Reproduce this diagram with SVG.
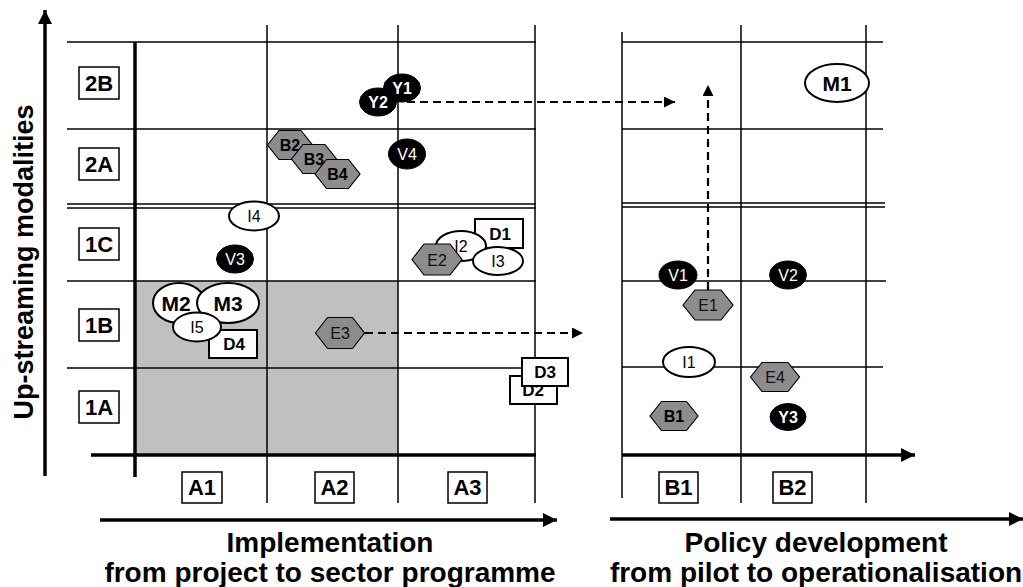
<svg xmlns="http://www.w3.org/2000/svg" width="1023" height="587" viewBox="0 0 1023 587">
<defs>
<style>
text{font-family:"Liberation Sans",Arial,sans-serif;text-anchor:middle}
.grid{stroke:#000;stroke-width:1.5;fill:none}
.thick{stroke:#000;stroke-width:3.5;fill:none}
.axis{stroke:#000;stroke-width:3.5;fill:none}
.dash{stroke:#000;stroke-width:2.2;stroke-dasharray:8 5;fill:none}
.lbl{fill:#fff;stroke:#000;stroke-width:1.5}
.lt{font-size:22px;font-weight:bold;fill:#000}
.blk{fill:#000;stroke:#000;stroke-width:1}
.bt{fill:#fff;font-size:16px}
.btb{fill:#fff;font-size:16px;font-weight:bold}
.wh{fill:#fff;stroke:#000;stroke-width:2}
.wt{fill:#000;font-size:16px}
.wtb{fill:#000;font-size:21px;font-weight:bold}
.hex{fill:#8c8c8c;stroke:#000;stroke-width:1.2}
.ht{fill:#111;font-size:16px}
.htb{fill:#000;font-size:16px;font-weight:bold}
.box{fill:#fff;stroke:#000;stroke-width:2}
.boxt{fill:#000;font-size:17px;font-weight:bold}
.title{font-size:28px;font-weight:bold;fill:#000}
.vtitle{font-size:27px;font-weight:bold;fill:#000}
</style>
<marker id="ah" viewBox="0 0 10 10" refX="10" refY="5" markerWidth="11" markerHeight="11" markerUnits="userSpaceOnUse" orient="auto">
<path d="M0,0 L10,5 L0,10 Z" fill="#000"/>
</marker>
<marker id="ahBig" viewBox="0 0 10 10" refX="10" refY="5" markerWidth="14" markerHeight="14" markerUnits="userSpaceOnUse" orient="auto">
<path d="M0,0 L10,5 L0,10 Z" fill="#000"/>
</marker>
</defs>
<rect x="0" y="0" width="1023" height="587" fill="#fff"/>

<!-- shaded area -->
<rect x="135" y="281" width="263" height="174" fill="#c0c0c0"/>

<!-- left grid -->
<g id="left-grid">
<line class="grid" x1="67" y1="42" x2="536" y2="42"/>
<line class="grid" x1="67" y1="129" x2="536" y2="129"/>
<line class="grid" x1="67" y1="204" x2="536" y2="204"/>
<line class="grid" x1="67" y1="208" x2="536" y2="208"/>
<line class="grid" x1="67" y1="281" x2="536" y2="281"/>
<line class="grid" x1="67" y1="368" x2="536" y2="368"/>
<line class="grid" x1="267" y1="25" x2="267" y2="503"/>
<line class="grid" x1="398" y1="25" x2="398" y2="503"/>
<line class="grid" x1="535" y1="25" x2="535" y2="503"/>
<line class="thick" x1="135" y1="42" x2="135" y2="477"/>
<line class="thick" x1="91" y1="455" x2="536" y2="455"/>
</g>

<!-- right grid -->
<g id="right-grid">
<line class="grid" x1="622" y1="42" x2="883" y2="42"/>
<line class="grid" x1="622" y1="129" x2="883" y2="129"/>
<line class="grid" x1="622" y1="203" x2="885" y2="203"/>
<line class="grid" x1="622" y1="207" x2="885" y2="207"/>
<line class="grid" x1="622" y1="281" x2="886" y2="281"/>
<line class="grid" x1="622" y1="367" x2="883" y2="367"/>
<line class="grid" x1="622" y1="32" x2="622" y2="498"/>
<line class="grid" x1="741" y1="25" x2="741" y2="503"/>
<line class="grid" x1="866" y1="25" x2="866" y2="503"/>
<line class="thick" x1="622" y1="455" x2="915" y2="455" marker-end="url(#ahBig)"/>
</g>

<!-- axes -->
<g id="axes">
<line class="axis" x1="45" y1="476" x2="45" y2="10" marker-end="url(#ahBig)"/>
<line class="axis" x1="100" y1="520" x2="557" y2="520" marker-end="url(#ahBig)"/>
<line class="axis" x1="610" y1="519" x2="1023" y2="519" marker-end="url(#ahBig)"/>
<text class="vtitle" transform="translate(33,262) rotate(-90)">Up-streaming modalities</text>
<text class="title" x="330" y="552">Implementation</text>
<text class="title" x="330" y="582">from project to sector programme</text>
<text class="title" x="816" y="552">Policy development</text>
<text class="title" x="816" y="582">from pilot to operationalisation</text>
</g>

<!-- row / column labels -->
<g id="label-2B"><rect class="lbl" x="79" y="67" width="40" height="32"/><text class="lt" x="99" y="91">2B</text></g>
<g id="label-2A"><rect class="lbl" x="79" y="148" width="40" height="32"/><text class="lt" x="99" y="172">2A</text></g>
<g id="label-1C"><rect class="lbl" x="79" y="228" width="40" height="32"/><text class="lt" x="99" y="252">1C</text></g>
<g id="label-1B"><rect class="lbl" x="79" y="309" width="40" height="32"/><text class="lt" x="99" y="333">1B</text></g>
<g id="label-1A"><rect class="lbl" x="79" y="391" width="40" height="32"/><text class="lt" x="99" y="415">1A</text></g>
<g id="label-A1"><rect class="lbl" x="182" y="472" width="40" height="31"/><text class="lt" x="202" y="495">A1</text></g>
<g id="label-A2"><rect class="lbl" x="315" y="472" width="39" height="31"/><text class="lt" x="334.5" y="495">A2</text></g>
<g id="label-A3"><rect class="lbl" x="448" y="472" width="39" height="31"/><text class="lt" x="467.5" y="495">A3</text></g>
<g id="label-B1"><rect class="lbl" x="659" y="472" width="39" height="31"/><text class="lt" x="678.5" y="495">B1</text></g>
<g id="label-B2"><rect class="lbl" x="773" y="472" width="39" height="31"/><text class="lt" x="792.5" y="495">B2</text></g>

<!-- connectors -->
<g id="connectors">
<line class="dash" x1="407" y1="102" x2="675" y2="102" marker-end="url(#ah)"/>
<line class="dash" x1="365" y1="333" x2="583" y2="333" marker-end="url(#ah)"/>
<line class="dash" x1="708" y1="290" x2="708" y2="85" marker-end="url(#ah)"/>
</g>

<!-- nodes -->
<g id="node-Y1"><ellipse class="blk" cx="402" cy="88" rx="18.5" ry="14"/><text class="btb" x="402" y="94">Y1</text></g>
<g id="node-Y2"><ellipse class="blk" cx="378" cy="102" rx="18.5" ry="14"/><text class="btb" x="378" y="108">Y2</text></g>
<g id="node-V4"><ellipse class="blk" cx="407" cy="154" rx="18.5" ry="15"/><text class="bt" x="407" y="160">V4</text></g>
<g id="node-V3"><ellipse class="blk" cx="235" cy="259" rx="18.5" ry="14"/><text class="bt" x="235" y="265">V3</text></g>
<g id="node-V1"><ellipse class="blk" cx="678" cy="275" rx="19" ry="14"/><text class="bt" x="678" y="281">V1</text></g>
<g id="node-V2"><ellipse class="blk" cx="788" cy="275" rx="18.5" ry="14"/><text class="bt" x="788" y="281">V2</text></g>
<g id="node-Y3"><ellipse class="blk" cx="788" cy="417" rx="18" ry="13.5"/><text class="btb" x="788" y="423">Y3</text></g>

<g id="node-B2"><polygon class="hex" points="267.5,145 279,130.5 301,130.5 312.5,145 301,159.5 279,159.5"/><text class="htb" x="290" y="151">B2</text></g>
<g id="node-B3"><polygon class="hex" points="291.5,159 303,144.5 325,144.5 336.5,159 325,173.5 303,173.5"/><text class="htb" x="314" y="165">B3</text></g>
<g id="node-B4"><polygon class="hex" points="315,174 326.5,159.5 348.5,159.5 360,174 348.5,188.5 326.5,188.5"/><text class="htb" x="337.5" y="180">B4</text></g>

<g id="node-I4"><ellipse class="wh" cx="254" cy="216" rx="25" ry="14.5"/><text class="wt" x="254" y="222">I4</text></g>

<g id="node-D1"><rect class="box" x="475" y="219" width="48" height="29"/><text class="boxt" x="500" y="240">D1</text></g>
<g id="node-I2"><ellipse class="wh" cx="461" cy="246" rx="25" ry="15"/><text class="wt" x="461" y="252">I2</text></g>
<g id="node-I3"><ellipse class="wh" cx="498" cy="261" rx="25" ry="14"/><text class="wt" x="498" y="267">I3</text></g>
<g id="node-E2"><polygon class="hex" points="412,259.5 424,244 450,244 462,259.5 450,275 424,275"/><text class="ht" x="437" y="265.5">E2</text></g>

<g id="node-D4"><rect class="box" x="209" y="330" width="48" height="28"/><text class="boxt" x="234" y="350">D4</text></g>
<g id="node-M2"><ellipse class="wh" cx="179" cy="303" rx="26" ry="20"/><text class="wtb" x="176" y="310.5">M2</text></g>
<g id="node-M3"><ellipse class="wh" cx="228" cy="303" rx="31" ry="20"/><text class="wtb" x="228" y="310.5">M3</text></g>
<g id="node-I5"><ellipse class="wh" cx="197" cy="327" rx="24" ry="14.5"/><text class="wt" x="197" y="333">I5</text></g>

<g id="node-E3"><polygon class="hex" points="315.5,333 327.5,317.5 352.5,317.5 364.5,333 352.5,348.5 327.5,348.5"/><text class="ht" x="340" y="339">E3</text></g>

<g id="node-D2"><rect class="box" x="510" y="376" width="47" height="28"/><text class="boxt" x="533" y="396">D2</text></g>
<g id="node-D3"><rect class="box" x="522" y="358" width="46" height="28"/><text class="boxt" x="545" y="378">D3</text></g>

<g id="node-M1"><ellipse class="wh" cx="837" cy="83" rx="32" ry="19"/><text class="wtb" x="837" y="90.5">M1</text></g>

<g id="node-E1"><polygon class="hex" points="683,305 695,290 721,290 733,305 721,320 695,320"/><text class="ht" x="708" y="311">E1</text></g>
<g id="node-I1"><ellipse class="wh" cx="689" cy="362" rx="26" ry="15"/><text class="wt" x="689" y="368">I1</text></g>
<g id="node-E4"><polygon class="hex" points="750.5,377 762,362.5 788,362.5 799.5,377 788,391.5 762,391.5"/><text class="ht" x="775" y="383">E4</text></g>
<g id="node-B1"><polygon class="hex" points="650,416 661.5,401.5 686.5,401.5 698,416 686.5,430.5 661.5,430.5"/><text class="htb" x="674" y="422">B1</text></g>
</svg>
